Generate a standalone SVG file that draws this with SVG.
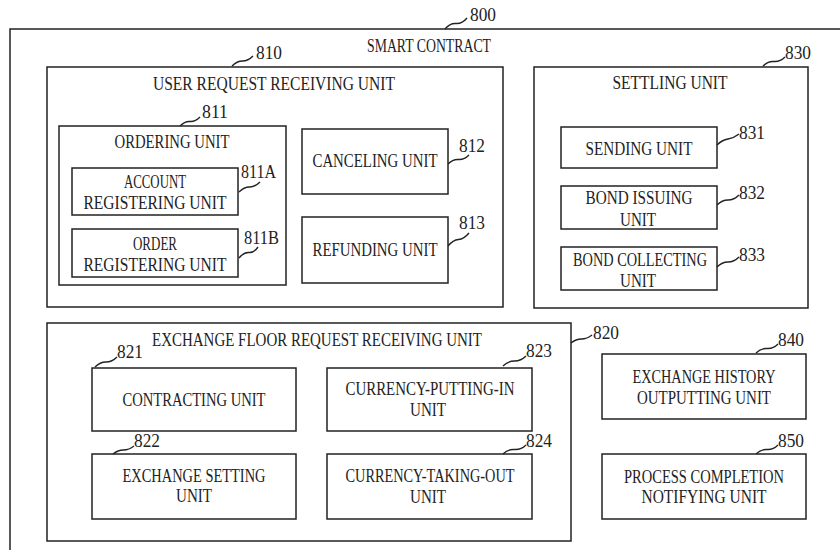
<svg xmlns="http://www.w3.org/2000/svg" width="840" height="550" viewBox="0 0 840 550">
<style>
rect{fill:none;stroke:#222;stroke-width:1.5}
text{font-family:"Liberation Serif","Times New Roman",serif;font-size:16px;fill:#222;text-anchor:middle;transform-box:fill-box;transform-origin:50% 100%;transform:scaleY(1.22)}
text.n{text-anchor:start}
path{fill:none;stroke:#222;stroke-width:1.4}
</style>
<rect width="840" height="550" style="fill:#fff;stroke:none"/>
<g id="n800"><rect x="10" y="29" width="845" height="535"/><text x="429" y="53" textLength="124" lengthAdjust="spacingAndGlyphs">SMART CONTRACT</text><text class="n" x="470" y="22" textLength="26" lengthAdjust="spacingAndGlyphs">800</text></g>
<g id="n810"><rect x="47" y="67" width="456" height="240"/><text x="274" y="91" textLength="242" lengthAdjust="spacingAndGlyphs">USER REQUEST RECEIVING UNIT</text><text class="n" x="256" y="60" textLength="26" lengthAdjust="spacingAndGlyphs">810</text></g>
<g id="n811"><rect x="59" y="126" width="227" height="159"/><text x="172" y="149" textLength="115" lengthAdjust="spacingAndGlyphs">ORDERING UNIT</text><text class="n" x="202" y="119" textLength="26" lengthAdjust="spacingAndGlyphs">811</text></g>
<g id="n811A"><rect x="72" y="168" width="166" height="47"/><text x="155" y="189" textLength="62" lengthAdjust="spacingAndGlyphs">ACCOUNT</text><text x="155" y="210" textLength="143" lengthAdjust="spacingAndGlyphs">REGISTERING UNIT</text><text class="n" x="241" y="179" textLength="35" lengthAdjust="spacingAndGlyphs">811A</text></g>
<g id="n811B"><rect x="72" y="229" width="166" height="48"/><text x="155" y="251" textLength="44" lengthAdjust="spacingAndGlyphs">ORDER</text><text x="155" y="272" textLength="143" lengthAdjust="spacingAndGlyphs">REGISTERING UNIT</text><text class="n" x="244" y="245" textLength="35" lengthAdjust="spacingAndGlyphs">811B</text></g>
<g id="n812"><rect x="302" y="129" width="146" height="65"/><text x="375" y="168" textLength="125" lengthAdjust="spacingAndGlyphs">CANCELING UNIT</text><text class="n" x="459" y="153" textLength="26" lengthAdjust="spacingAndGlyphs">812</text></g>
<g id="n813"><rect x="302" y="217" width="146" height="66"/><text x="375" y="257" textLength="125" lengthAdjust="spacingAndGlyphs">REFUNDING UNIT</text><text class="n" x="459" y="230" textLength="26" lengthAdjust="spacingAndGlyphs">813</text></g>
<g id="n830"><rect x="534" y="67" width="274" height="241"/><text x="670" y="90" textLength="115" lengthAdjust="spacingAndGlyphs">SETTLING UNIT</text><text class="n" x="785" y="60" textLength="26" lengthAdjust="spacingAndGlyphs">830</text></g>
<g id="n831"><rect x="561" y="127" width="156" height="41"/><text x="639" y="156" textLength="107" lengthAdjust="spacingAndGlyphs">SENDING UNIT</text><text class="n" x="739" y="140" textLength="26" lengthAdjust="spacingAndGlyphs">831</text></g>
<g id="n832"><rect x="561" y="186" width="156" height="43"/><text x="639" y="205" textLength="107" lengthAdjust="spacingAndGlyphs">BOND ISSUING</text><text x="638" y="227" textLength="36" lengthAdjust="spacingAndGlyphs">UNIT</text><text class="n" x="739" y="200" textLength="26" lengthAdjust="spacingAndGlyphs">832</text></g>
<g id="n833"><rect x="561" y="247" width="156" height="43"/><text x="640" y="267" textLength="134" lengthAdjust="spacingAndGlyphs">BOND COLLECTING</text><text x="638" y="288" textLength="36" lengthAdjust="spacingAndGlyphs">UNIT</text><text class="n" x="739" y="262" textLength="26" lengthAdjust="spacingAndGlyphs">833</text></g>
<g id="n820"><rect x="47" y="323" width="524" height="218"/><text x="317" y="347" textLength="330" lengthAdjust="spacingAndGlyphs">EXCHANGE FLOOR REQUEST RECEIVING UNIT</text><text class="n" x="593" y="340" textLength="26" lengthAdjust="spacingAndGlyphs">820</text></g>
<g id="n821"><rect x="92" y="368" width="204" height="63"/><text x="194" y="407" textLength="143" lengthAdjust="spacingAndGlyphs">CONTRACTING UNIT</text><text class="n" x="117" y="359" textLength="26" lengthAdjust="spacingAndGlyphs">821</text></g>
<g id="n822"><rect x="92" y="454" width="204" height="65"/><text x="194" y="483" textLength="143" lengthAdjust="spacingAndGlyphs">EXCHANGE SETTING</text><text x="194" y="503" textLength="36" lengthAdjust="spacingAndGlyphs">UNIT</text><text class="n" x="134" y="448" textLength="26" lengthAdjust="spacingAndGlyphs">822</text></g>
<g id="n823"><rect x="327" y="368" width="205" height="63"/><text x="430" y="396" textLength="169" lengthAdjust="spacingAndGlyphs">CURRENCY-PUTTING-IN</text><text x="428" y="417" textLength="36" lengthAdjust="spacingAndGlyphs">UNIT</text><text class="n" x="526" y="358" textLength="26" lengthAdjust="spacingAndGlyphs">823</text></g>
<g id="n824"><rect x="327" y="454" width="205" height="65"/><text x="430" y="483" textLength="169" lengthAdjust="spacingAndGlyphs">CURRENCY-TAKING-OUT</text><text x="428" y="504" textLength="36" lengthAdjust="spacingAndGlyphs">UNIT</text><text class="n" x="526" y="448" textLength="26" lengthAdjust="spacingAndGlyphs">824</text></g>
<g id="n840"><rect x="602" y="354" width="204" height="65"/><text x="704" y="384" textLength="143" lengthAdjust="spacingAndGlyphs">EXCHANGE HISTORY</text><text x="704" y="405" textLength="134" lengthAdjust="spacingAndGlyphs">OUTPUTTING UNIT</text><text class="n" x="778" y="347" textLength="26" lengthAdjust="spacingAndGlyphs">840</text></g>
<g id="n850"><rect x="602" y="454" width="204" height="65"/><text x="704" y="484" textLength="160" lengthAdjust="spacingAndGlyphs">PROCESS COMPLETION</text><text x="704" y="504" textLength="125" lengthAdjust="spacingAndGlyphs">NOTIFYING UNIT</text><text class="n" x="778" y="448" textLength="26" lengthAdjust="spacingAndGlyphs">850</text></g>
<g id="connectors">
<path d="M445,29 q5,-6 11,-5.5 t11,-5.5"/>
<path d="M232,66 q5,-5 10.5,-5 t10.5,-5"/>
<path d="M180,126 q5,-5 10,-4.5 t10,-4.5"/>
<path d="M239,192 q5,-5 10.5,-5 t10.5,-5"/>
<path d="M239,258 q5,-6 10,-5.5 t9,-5.5"/>
<path d="M448,164 q5,-5 10.5,-4.5 t10.5,-4.5"/>
<path d="M448,246 q5,-6 10.5,-6.5 t10.5,-6.5"/>
<path d="M763,66 q5,-5 11,-4.5 t11,-4.5"/>
<path d="M717,145 q5,-5 11,-6 t11,-5"/>
<path d="M717,205 q5,-5 11,-5 t11,-5"/>
<path d="M717,267 q5,-5 11,-5 t11,-5"/>
<path d="M571,343 q5,-4 10.5,-4 t10.5,-4"/>
<path d="M95,367 q5,-5 11,-5 t11,-5"/>
<path d="M113,454 q5,-4 10.5,-4 t10.5,-4"/>
<path d="M503,366 q5,-5 11.5,-5 t11.5,-5"/>
<path d="M503,454 q5,-5 11.5,-4.5 t11.5,-4.5"/>
<path d="M756,353 q5,-5 11,-4.5 t11,-4.5"/>
<path d="M756,454 q5,-5 11,-4.5 t11,-4.5"/>
</g>
</svg>
